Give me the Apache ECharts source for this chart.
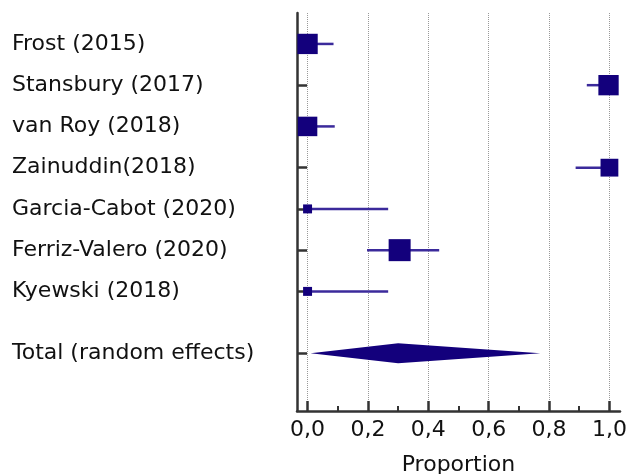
<!DOCTYPE html>
<html><head><meta charset="utf-8">
<script src="https://cdn.jsdelivr.net/npm/echarts@6/dist/echarts.min.js"></script>
<style>html,body{margin:0;padding:0;background:#fff}#c{width:632px;height:474px}</style>
</head><body><div id="c"></div>
<script>
// ---- data ----
const studies = ['Frost (2015)', 'Stansbury (2017)', 'van Roy (2018)', 'Zainuddin(2018)', 'Garcia-Cabot (2020)', 'Ferriz-Valero (2020)', 'Kyewski (2018)'];
const proportion = [0.0, 0.997, 0.0, 1.0, 0.0, 0.305, 0.0];
const ciLower = [0.0, 0.925, 0.0, 0.888, 0.0, 0.197, 0.0];
const ciUpper = [0.086, 1.0, 0.09, 1.0, 0.267, 0.436, 0.267];
const weights = [19.0, 19.0, 17.5, 14.6, 3.7, 22.3, 3.7];
const totalLabel = 'Total (random effects)';
const totalEstimate = 0.30;
const totalLower = 0.01;
const totalUpper = 0.771;
const xTicks = [0, 0.2, 0.4, 0.6, 0.8, 1.0];
const xMinorTicks = [0.1, 0.3, 0.5, 0.7, 0.9];
const xAxisName = 'Proportion';

// ---- build ----
const rowLabels = studies.concat([totalLabel]);
const rowPos = studies.map((s, i) => i).concat([studies.length + 0.5]);
const studyData = studies.map((s, i) => [proportion[i], rowPos[i], ciLower[i], ciUpper[i], weights[i]]);
const totalData = [[totalEstimate, rowPos[rowPos.length - 1], totalLower, totalUpper]];

const FONT = 'DejaVu Sans';
const FS = 22;
const markColor = '#13007C';
const ciColor = '#3B2A9B';
const axisColor = '#333333';

const chart = echarts.init(document.getElementById('c'), null, {renderer: 'canvas'});
chart.setOption({
  animation: false,
  backgroundColor: '#ffffff',
  grid: {left: 297, right: 12, top: 13, bottom: 63, containLabel: false, outerBoundsMode: 'none'},
  xAxis: [{
    type: 'value', min: -0.035, max: 1.035, position: 'bottom',
    name: xAxisName, nameLocation: 'middle', nameGap: 43,
    nameTextStyle: {fontFamily: FONT, fontSize: FS, color: '#111'},
    axisLine: {show: true, onZero: false, lineStyle: {color: axisColor, width: 2.5}},
    axisTick: {show: true, inside: true, length: 10, customValues: xTicks, lineStyle: {color: axisColor, width: 2.5}},
    axisLabel: {show: true, customValues: xTicks, margin: 8, fontFamily: FONT, fontSize: FS, color: '#111',
      formatter: v => v.toFixed(1).replace('.', ',')},
    splitLine: {show: true, lineStyle: {color: '#999', width: 1, type: [1, 1]}}
  }, {
    type: 'value', min: -0.035, max: 1.035, position: 'bottom', offset: 0,
    axisLine: {show: false, onZero: false},
    axisTick: {show: true, inside: true, length: 5, customValues: xMinorTicks, lineStyle: {color: axisColor, width: 2}},
    axisLabel: {show: false},
    splitLine: {show: false}
  }],
  yAxis: {
    type: 'value', inverse: true, min: -0.75, max: 8.9,
    axisLine: {show: true, onZero: false, lineStyle: {color: axisColor, width: 2.5}},
    axisTick: {show: true, inside: true, length: 10, customValues: rowPos, lineStyle: {color: axisColor, width: 2.5}},
    axisLabel: {show: true, customValues: rowPos, align: 'left', margin: 285, fontFamily: FONT, fontSize: FS, color: '#111',
      formatter: v => { const k = rowPos.indexOf(v); return k >= 0 ? rowLabels[k] : ''; }},
    splitLine: {show: false}
  },
  series: [{
    type: 'custom', clip: false, z: 5,
    encode: {x: [0, 2, 3], y: 1},
    data: studyData,
    renderItem: (params, api) => {
      const c = api.coord([api.value(0), api.value(1)]);
      const l = api.coord([api.value(2), api.value(1)]);
      const h = api.coord([api.value(3), api.value(1)]);
      const side = 4.66 * Math.sqrt(api.value(4));
      return {type: 'group', children: [
        {type: 'line', shape: {x1: l[0], y1: l[1], x2: h[0], y2: h[1]}, style: {stroke: ciColor, lineWidth: 2.5}},
        {type: 'rect', shape: {x: c[0] - side / 2, y: c[1] - side / 2, width: side, height: side}, style: {fill: markColor}}
      ]};
    }
  }, {
    type: 'custom', clip: false, z: 5,
    encode: {x: [0, 2, 3], y: 1},
    data: totalData,
    renderItem: (params, api) => {
      const c = api.coord([api.value(0), api.value(1)]);
      const l = api.coord([api.value(2), api.value(1)]);
      const h = api.coord([api.value(3), api.value(1)]);
      const hh = 10;
      return {type: 'polygon', shape: {points: [[l[0], l[1]], [c[0], c[1] - hh], [h[0], h[1]], [c[0], c[1] + hh]]}, style: {fill: markColor}};
    }
  }]
});
</script>
</body></html>
